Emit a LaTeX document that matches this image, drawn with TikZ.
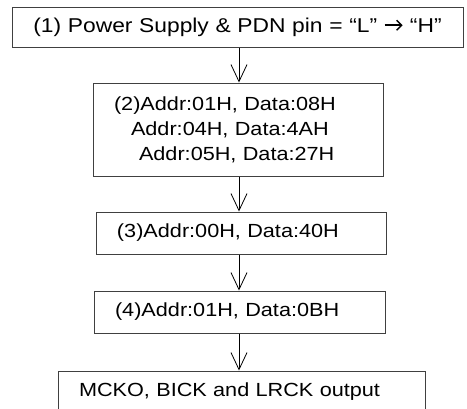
\documentclass[tikz,border=0pt]{standalone}
\usepackage{fontspec}
\setmainfont[FakeStretch=1.14]{Liberation Sans}
\usetikzlibrary{arrows.meta,positioning}
\tikzset{
  stepbox/.style={draw=black!75, line width=1pt, align=left, font=\fontsize{19pt}{25pt}\selectfont, inner xsep=21pt, inner ysep=0pt, minimum height=42pt},
  arr/.style={-{Straight Barb[length=17pt,width=16pt]}, line width=0.8pt, draw=black}
}
\newcommand{\chevarrow}{\tikz[baseline=-0.35em]\draw[line width=1.4pt, -{Straight Barb[length=5pt,width=10pt]}] (0,0) -- (18pt,0);}

\begin{document}
\begin{tikzpicture}[x=1pt,y=-1pt]
\useasboundingbox (0,0) rectangle (467,408);
\clip (0,0) rectangle (467,408);
\node[stepbox, align=center, font=\fontsize{20pt}{25pt}\selectfont, minimum width=451pt, minimum height=40pt, text width=415pt, inner xsep=18pt] (s1) at (237.5,27) {(1) Power Supply \& PDN pin = “L” \chevarrow{} “H”};
\node[stepbox, below=35pt of s1, xshift=0.5pt, minimum width=290pt, minimum height=93pt, text width=248pt] (s2) {(2)Addr:01H, Data:08H\\
\hspace*{17pt}Addr:04H, Data:4AH\\
\hspace*{25pt}Addr:05H, Data:27H};
\node[stepbox, below=35pt of s2, xshift=3pt, minimum width=290pt, text width=248pt] (s3) {(3)Addr:00H, Data:40H};
\node[stepbox, below=36pt of s3, xshift=-1.5pt, minimum width=291pt, text width=249pt] (s4) {(4)Addr:01H, Data:0BH};
\node[stepbox, below=37pt of s4, xshift=2pt, minimum width=367pt, text width=325pt] (s5) {MCKO, BICK and LRCK output};
\coordinate (ax) at (239,0);
\draw[arr] (s1.south -| ax) -- (s2.north -| ax);
\draw[arr] (s2.south -| ax) -- (s3.north -| ax);
\draw[arr] (s3.south -| ax) -- (s4.north -| ax);
\draw[arr] (s4.south -| ax) -- (s5.north -| ax);
\end{tikzpicture}
\end{document}
